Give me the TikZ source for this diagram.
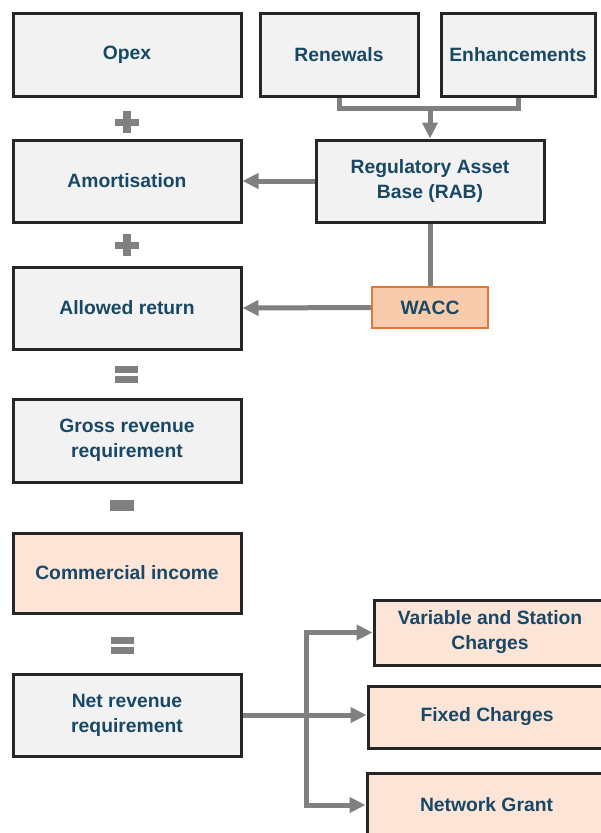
\documentclass[tikz,border=0pt]{standalone}
\usepackage{fontspec}
\setmainfont{Liberation Sans}
\usetikzlibrary{arrows.meta}
\definecolor{txt}{RGB}{24,72,102}
\definecolor{gfill}{RGB}{242,242,242}
\definecolor{bdr}{RGB}{38,38,38}
\definecolor{pfill}{RGB}{252,228,214}
\definecolor{wfill}{RGB}{248,203,173}
\definecolor{wbdr}{RGB}{224,120,50}
\definecolor{conn}{RGB}{128,128,128}
\begin{document}
\begin{tikzpicture}[x=1pt,y=-1pt,
  base/.style={inner sep=0pt, align=center, text=txt,
    font=\fontsize{19.3}{25}\selectfont\bfseries},
  gbox/.style={base, draw=bdr, line width=3pt, fill=gfill},
  pbox/.style={base, draw=bdr, line width=3pt, fill=pfill},
  wbox/.style={base, draw=wbdr, line width=2pt, fill=wfill},
  line/.style={draw=conn, line width=5pt},
  arr/.style={line, -{Triangle[length=16pt,width=15pt]}},
  sign/.style={fill=conn}]
\useasboundingbox (0,0) rectangle (601,833);
\clip (0,0) rectangle (601,833);
\fill[white] (0,0) rectangle (601,833);

% boxes
\node[gbox, minimum width=228pt, minimum height=83pt] (opex) at (127,54.5) {Opex};
\node[gbox, minimum width=158pt, minimum height=83pt] (ren) at (339,54.5) {Renewals};
\node[gbox, minimum width=154pt, minimum height=83pt] (enh) at (518,54.5) {Enhancements};
\node[gbox, minimum width=228pt, minimum height=82pt] (amort) at (127,181) {Amortisation};
\node[gbox, minimum width=228pt, minimum height=82pt] (rab) at (430,181) {Regulatory Asset\\Base (RAB)};
\node[gbox, minimum width=228pt, minimum height=82pt] (allowed) at (127,308) {Allowed return};
\node[wbox, minimum width=116pt, minimum height=41pt] (wacc) at (430,307.5) {WACC};
\node[gbox, minimum width=228pt, minimum height=83pt] (gross) at (127,440.5) {Gross revenue\\requirement};
\node[pbox, minimum width=228pt, minimum height=80pt] (comm) at (127,573) {Commercial income};
\node[gbox, minimum width=228pt, minimum height=82pt] (net) at (127,715) {Net revenue\\requirement};
\node[pbox, minimum width=232pt, minimum height=65pt] (var) at (490,632.5) {Variable and Station\\Charges};
\node[pbox, minimum width=238pt, minimum height=62pt] (fixed) at (487,717) {Fixed Charges};
\node[pbox, minimum width=239pt, minimum height=64pt] (ng) at (486.5,805) {Network Grant};

% connectors
\coordinate (hj) at (430,108);
\draw[line] (ren.south) |- (hj) -| (enh.south);
\draw[arr] (hj) -- (rab.north);
\draw[arr] (rab.west) -- (amort.east);
\draw[line] (rab.south) -- (wacc.north);
\draw[arr] (wacc.west) -- (allowed.east);
\coordinate (bt) at (306,632.5);
\coordinate (bb) at (306,805);
\draw[arr] (net.east) -- (fixed.west |- net.east);
\draw[line] (bt) -- (bb);
\draw[arr] ([xshift=-2.5pt]bt) -- (var.west);
\draw[arr] ([xshift=-2.5pt]bb) -- (ng.west);

% operator signs
\fill[sign] (115,118.5) rectangle (139,125.5);
\fill[sign] (123,111) rectangle (131,133);
\fill[sign] (115,241.5) rectangle (139,248.5);
\fill[sign] (123,234) rectangle (131,256);
\fill[sign] (115,366) rectangle (138,373);
\fill[sign] (115,376) rectangle (138,383);
\fill[sign] (110,500) rectangle (134,511);
\fill[sign] (111,637) rectangle (134,644);
\fill[sign] (111,647) rectangle (134,654);
\end{tikzpicture}
\end{document}
